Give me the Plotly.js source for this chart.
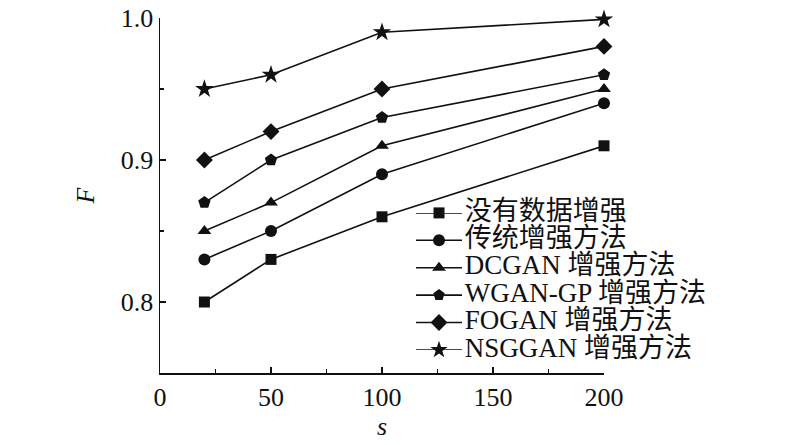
<!DOCTYPE html>
<html><head><meta charset="utf-8">
<script src="https://cdn.plot.ly/plotly-3.0.1.min.js"></script>
<style>html,body{margin:0;padding:0;background:#fff}#c{width:800px;height:445px}</style>
</head><body><div id="c"></div>
<script>
const xs = [20, 50, 100, 200];
const names = ['没有数据增强','传统增强方法','DCGAN 增强方法','WGAN-GP 增强方法','FOGAN 增强方法','NSGGAN 增强方法'];
const noAug   = [0.80, 0.83, 0.86, 0.91];
const trad    = [0.83, 0.85, 0.89, 0.94];
const dcgan   = [0.85, 0.87, 0.91, 0.95];
const wgangp  = [0.87, 0.90, 0.93, 0.96];
const fogan   = [0.90, 0.92, 0.95, 0.98];
const nsggan  = [0.95, 0.96, 0.99, 0.999];
const series = [noAug, trad, dcgan, wgangp, fogan, nsggan];
const symbols = ['square','circle','triangle-up','pentagon','diamond','star'];
const sizes = [11, 12, 12, 13, 13, 14];
const legSizes = [11, 12, 12, 12, 13, 13];
const FONT = '"Liberation Serif", "Times New Roman", "Noto Sans CJK SC", serif';
const INK = '#111111';
const traces = series.map((ys, i) => ({
  x: xs, y: ys, name: names[i], type: 'scatter', mode: 'lines+markers',
  line: {color: INK, width: 1.6},
  marker: {symbol: symbols[i], size: sizes[i], color: INK},
  cliponaxis: false, showlegend: false
}));
// hand-built legend on an overlay axis (row 0 at top)
names.forEach((nm, i) => {
  const row = names.length - 1 - i;
  traces.push({
    x: [0, 1], y: [row, row], xaxis: 'x2', yaxis: 'y2', type: 'scatter',
    mode: 'lines', line: {color: INK, width: 1.6},
    cliponaxis: false, showlegend: false, hoverinfo: 'skip'
  });
  traces.push({
    x: [0.5], y: [row], xaxis: 'x2', yaxis: 'y2', type: 'scatter',
    mode: 'markers', marker: {symbol: symbols[i], size: legSizes[i], color: INK},
    cliponaxis: false, showlegend: false, hoverinfo: 'skip'
  });
  traces.push({
    x: [1.06], y: [row], xaxis: 'x2', yaxis: 'y2', type: 'scatter', mode: 'text',
    text: [nm], textposition: 'middle right',
    textfont: {family: FONT, size: 27, color: INK},
    cliponaxis: false, showlegend: false, hoverinfo: 'skip'
  });
});
const layout = {
  width: 800, height: 445,
  margin: {l: 160, r: 196, t: 18, b: 72},
  paper_bgcolor: '#fff', plot_bgcolor: '#fff',
  font: {family: FONT, size: 26, color: INK},
  showlegend: false,
  xaxis: {
    range: [0, 200], tickvals: [0, 50, 100, 150, 200], showgrid: false, zeroline: false,
    showline: true, linecolor: INK, linewidth: 1.5,
    ticks: 'inside', ticklen: 6, tickwidth: 1.3, tickcolor: INK,
    minor: {dtick: 25, tick0: 0, ticks: 'inside', ticklen: 4, tickwidth: 1.2, tickcolor: INK, showgrid: false},
    tickfont: {family: FONT, size: 26},
    title: {text: '<i>s</i>', font: {family: FONT, size: 26}, standoff: 6}
  },
  yaxis: {
    range: [0.75, 1.0], tickvals: [0.8, 0.9, 1.0], ticktext: ['0.8','0.9','1.0'],
    showgrid: false, zeroline: false,
    showline: true, linecolor: INK, linewidth: 1.5,
    ticks: 'inside', ticklen: 6, tickwidth: 1.3, tickcolor: INK,
    minor: {dtick: 0.05, tick0: 0.75, ticks: 'inside', ticklen: 4, tickwidth: 1.2, tickcolor: INK, showgrid: false},
    tickfont: {family: FONT, size: 26},
    title: {text: '<i>F</i>', font: {family: FONT, size: 26}, standoff: 18}
  },
  xaxis2: {domain: [0.5766, 0.7009], range: [0, 1.2], visible: false, anchor: 'y2', fixedrange: true},
  yaxis2: {domain: [0.065, 0.451], range: [0, 5], visible: false, anchor: 'x2', fixedrange: true}
};
Plotly.newPlot('c', traces, layout, {staticPlot: true, displayModeBar: false});
</script></body></html>
